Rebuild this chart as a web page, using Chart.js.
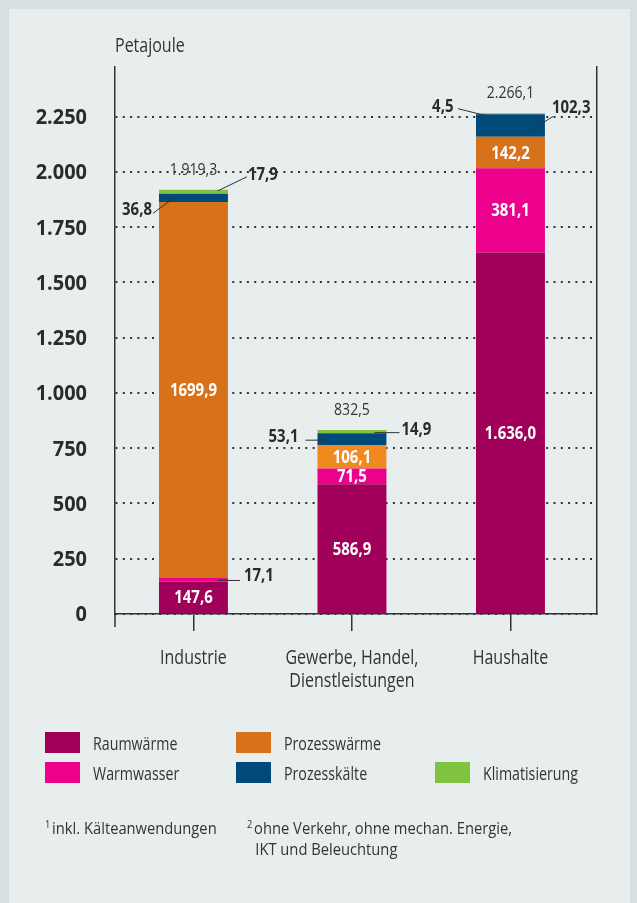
<!DOCTYPE html>
<html lang="de">
<head>
<meta charset="utf-8">
<title>Endenergieverbrauch nach Anwendungen</title>
<script src="https://cdn.jsdelivr.net/npm/chart.js@4.4.1/dist/chart.umd.min.js"></script>
<style>
  html, body { margin: 0; padding: 0; }
  body { width: 637px; height: 903px; background: #d6dfe2; position: relative; overflow: hidden;
         font-family: "Open Sans", sans-serif; color: #333; }
  #panel { position: absolute; left: 9px; top: 9px; width: 621px; height: 894px; background: #e8eeee; }
  #c { position: absolute; left: 0; top: 0; }
  .leg { position: absolute; height: 21px; width: 190px; }
  .leg i { position: absolute; left: 0; top: 0; width: 35px; height: 21px; }
  .leg span { position: absolute; left: 48px; top: -1px; line-height: 24px; font-size: 18px; white-space: nowrap;
              transform: scaleX(.79); transform-origin: 0 50%; }
  .note { position: absolute; font-size: 16px; line-height: 21px; white-space: nowrap;
          transform: scaleX(.92); transform-origin: 0 50%; }
  .note sup { font-size: 10px; vertical-align: 6px; margin-right: 2px; }
</style>
</head>
<body>
<div id="panel"></div>
<canvas id="c" width="637" height="903"></canvas>
<div id="legende"></div>
<div class="note" style="left:45px; top:814px;"><sup>1</sup>inkl. Kälteanwendungen</div>
<div class="note" style="left:247px; top:814px;"><sup>2</sup>ohne Verkehr, ohne mechan. Energie,<br><span style="padding-left:9px">IKT und Beleuchtung</span></div>

<script>
const kategorien = ["Industrie", ["Gewerbe, Handel,", "Dienstleistungen"], "Haushalte"];
const raumwaerme = [147.6, 586.9, 1636.0];
const warmwasser = [17.1, 71.5, 381.1];
const prozesswaerme = [1699.9, 106.1, 142.2];
const prozesskaelte = [36.8, 53.1, 102.3];
const klimatisierung = [17.9, 14.9, 4.5];
const yTicks = [0, 250, 500, 750, 1000, 1250, 1500, 1750, 2000, 2250];

const serien = [
  { name: "Raumwärme", werte: raumwaerme, farbe: "#a0005a" },
  { name: "Warmwasser", werte: warmwasser, farbe: "#ec008c" },
  { name: "Prozesswärme", werte: prozesswaerme, farbe: ["#d7711a", "#f0891f", "#d7711a"] },
  { name: "Prozesskälte", werte: prozesskaelte, farbe: "#004a7a" },
  { name: "Klimatisierung", werte: klimatisierung, farbe: "#80c242" }
];

// Zahlen im deutschen Format
function fmt(v, gruppieren = true, stellen = 1) {
  let [ganz, dez] = v.toFixed(stellen).split(".");
  if (gruppieren) ganz = ganz.replace(/\B(?=(\d{3})+(?!\d))/g, ".");
  return dez ? ganz + "," + dez : ganz;
}

// Beschriftungen ausserhalb der Balken (Position relativ zu Balkenmitte / Segmentmitte)
const ausserhalb = [
  { s: 1, i: 0, tx: 50.5, ty: -5, align: "left", linie: [24.5, 1, 46.5, 1] },
  { s: 3, i: 0, tx: -41.5, ty: 11.5, align: "right", linie: [-17.5, -1.5, -40.5, 15.5] },
  { s: 4, i: 0, tx: 54.5, ty: -18, align: "left", linie: [24.5, -1, 53.5, -15] },
  { s: 3, i: 1, tx: -53.5, ty: -3, align: "right", linie: [-46.5, 1, -24.5, 1] },
  { s: 4, i: 1, tx: 49.5, ty: -3, align: "left", linie: [22.5, 1, 47.5, 1] },
  { s: 3, i: 2, tx: 41.5, ty: -19, align: "left", linie: [42.5, -9, 20.5, 5] },
  { s: 4, i: 2, tx: -57, ty: -8, align: "right", linie: [-52.5, -5, -24.5, 2] }
];
// ohne Tausenderpunkt wie im Original
const ohneGruppierung = [{ s: 2, i: 0 }];

function text(c, s, x, y, size, weight, color, align, sx) {
  c.save();
  c.translate(x, y + size * 0.357);
  c.scale(sx, 1);
  c.font = weight + " " + size + 'px "Open Sans"';
  c.fillStyle = color;
  c.textAlign = align;
  c.textBaseline = "alphabetic";
  c.fillText(s, 0, 0);
  c.restore();
}

const beschriftung = {
  id: "beschriftung",
  afterDraw(chart) {
    const c = chart.ctx;
    const area = chart.chartArea;
    const x = chart.scales.x;
    const y = chart.scales.y;

    // Verlaengerung der y-Achse nach unten
    c.save();
    c.strokeStyle = "#333";
    c.lineWidth = 1.5;
    c.beginPath();
    c.moveTo(area.left, area.bottom);
    c.lineTo(area.left, area.bottom + 13);
    c.stroke();
    c.restore();

    text(c, "Petajoule", area.left, area.top - 22, 20, "400", "#333", "left", 0.8);

    yTicks.forEach(t => {
      text(c, fmt(t, true, 0), area.left - 28, y.getPixelForValue(t), 21, "700", "#2b2b2b", "right", 0.95);
    });

    kategorien.forEach((k, i) => {
      const zeilen = Array.isArray(k) ? k : [k];
      zeilen.forEach((z, j) => {
        text(c, z, x.getPixelForValue(i), area.bottom + 43 + j * 23, 20, "400", "#333", "center", 0.8);
      });
    });

    // Werte in den Balken
    serien.forEach((serie, s) => {
      const meta = chart.getDatasetMeta(s);
      meta.data.forEach((el, i) => {
        if (ausserhalb.some(a => a.s === s && a.i === i)) return;
        const grp = !ohneGruppierung.some(a => a.s === s && a.i === i);
        text(c, fmt(serie.werte[i], grp), el.x, (el.y + el.base) / 2, 17, "700", "#fff", "center", 0.88);
      });
    });

    // Werte mit Hinweislinie
    ausserhalb.forEach(a => {
      const el = chart.getDatasetMeta(a.s).data[a.i];
      const mx = el.x, my = (el.y + el.base) / 2;
      c.save();
      c.strokeStyle = "#333";
      c.lineWidth = 1;
      c.beginPath();
      c.moveTo(mx + a.linie[0], my + a.linie[1]);
      c.lineTo(mx + a.linie[2], my + a.linie[3]);
      c.stroke();
      c.restore();
      text(c, fmt(serien[a.s].werte[a.i]), mx + a.tx, my + a.ty, 17, "700", "#2b2b2b", a.align, 0.88);
    });

    // Summen ueber den Balken
    const oben = chart.getDatasetMeta(serien.length - 1);
    oben.data.forEach((el, i) => {
      const summe = serien.reduce((acc, s) => acc + s.werte[i], 0);
      text(c, fmt(summe), el.x, el.y - 21, 16.5, "400", "#333", "center", 0.85);
    });
  }
};

new Chart(document.getElementById("c"), {
  type: "bar",
  data: {
    datasets: serien.map(s => ({
      label: s.name,
      data: s.werte.map((v, i) => ({ x: i, y: v })),
      backgroundColor: s.farbe,
      borderWidth: 0
    }))
  },
  options: {
    responsive: false,
    animation: false,
    devicePixelRatio: 1,
    layout: { padding: { left: 115, top: 67, right: 40, bottom: 272 } },
    datasets: { bar: { barPercentage: 0.435, categoryPercentage: 1 } },
    plugins: { legend: { display: false }, tooltip: { enabled: false } },
    scales: {
      x: {
        type: "linear",
        stacked: true,
        offset: false,
        min: -0.495,
        max: 2.546,
        afterBuildTicks: s => { s.ticks = kategorien.map((k, i) => ({ value: i })); },
        grid: { offset: false, drawOnChartArea: false, drawTicks: true, tickLength: 17, color: "#333", lineWidth: 1.5 },
        border: { color: "#333", width: 1.5 },
        ticks: { display: false }
      },
      y: {
        stacked: true,
        min: 0,
        max: 2475,
        afterBuildTicks: s => { s.ticks = yTicks.map(v => ({ value: v })); },
        grid: { color: "#333", lineWidth: 2, drawTicks: false },
        border: { color: "#333", width: 1.5, dash: [2, 5.3] },
        ticks: { display: false }
      },
      yR: {
        position: "right",
        grid: { display: false, drawTicks: false },
        border: { color: "#333", width: 1.5 },
        ticks: { display: false }
      }
    }
  },
  plugins: [beschriftung]
});

// Legende
const legPos = [[45, 732], [45, 762], [236, 732], [236, 762], [435, 762]];
const legende = document.getElementById("legende");
serien.forEach((s, k) => {
  const d = document.createElement("div");
  d.className = "leg";
  d.style.left = legPos[k][0] + "px";
  d.style.top = legPos[k][1] + "px";
  const farbe = Array.isArray(s.farbe) ? s.farbe[0] : s.farbe;
  d.innerHTML = '<i style="background:' + farbe + '"></i><span>' + s.name + "</span>";
  legende.appendChild(d);
});
</script>
</body>
</html>
